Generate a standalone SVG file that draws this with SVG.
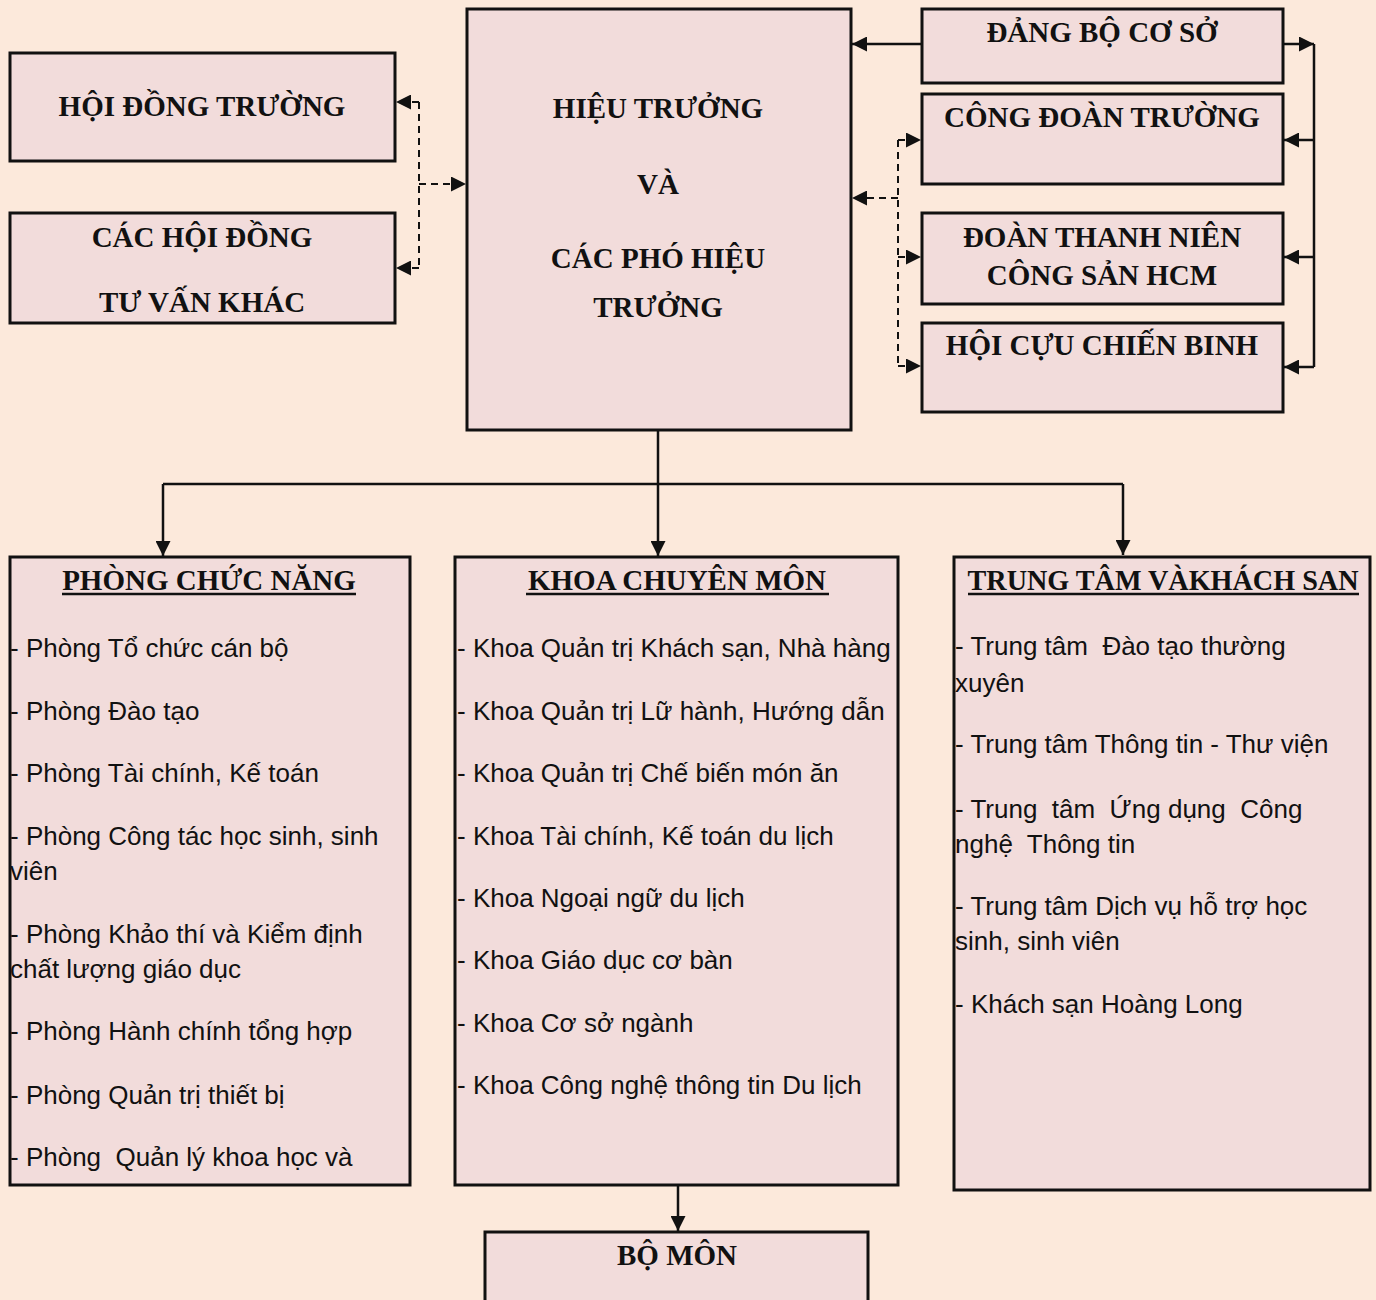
<svg xmlns="http://www.w3.org/2000/svg" width="1376" height="1300" viewBox="0 0 1376 1300">
<style>
.bg{fill:#FCE9DB}
.box{fill:#F2DCDB;stroke:#111;stroke-width:3}
.t{font-family:"Liberation Serif","Times New Roman",serif;font-weight:bold;font-size:29px;fill:#111;text-anchor:middle}
.b{font-family:"Liberation Sans",Arial,sans-serif;font-size:26px;fill:#111;white-space:pre}
.c{fill:none;stroke:#111;stroke-width:2.5}
.d{fill:none;stroke:#111;stroke-width:2;stroke-dasharray:7 5}
.u{stroke:#111;stroke-width:2.5}
</style>
<defs>
<marker id="ah" viewBox="0 0 10 10" refX="10" refY="5" markerWidth="17" markerHeight="15" markerUnits="userSpaceOnUse" orient="auto">
<path d="M0,0 L10,5 L0,10 Z" fill="#111"/>
</marker>
</defs>
<rect class="bg" x="0" y="0" width="1376" height="1300"/>

<g id="connectors">
<path class="d" d="M419,102 V268"/>
<path class="d" d="M419,102 H396" marker-end="url(#ah)"/>
<path class="d" d="M419,268 H396" marker-end="url(#ah)"/>
<path class="d" d="M419,184 H466" marker-end="url(#ah)"/>
<path class="c" d="M922,44 H852" marker-end="url(#ah)"/>
<path class="d" d="M898,140 V366"/>
<path class="d" d="M898,198 H852" marker-end="url(#ah)"/>
<path class="d" d="M898,140 H921" marker-end="url(#ah)"/>
<path class="d" d="M898,257 H921" marker-end="url(#ah)"/>
<path class="d" d="M898,366 H921" marker-end="url(#ah)"/>
<path class="c" d="M1283,44 H1314" marker-end="url(#ah)"/>
<path class="c" d="M1314,44 V367"/>
<path class="c" d="M1314,140 H1284" marker-end="url(#ah)"/>
<path class="c" d="M1314,257 H1284" marker-end="url(#ah)"/>
<path class="c" d="M1314,367 H1284" marker-end="url(#ah)"/>
<path class="c" d="M658,430 V556" marker-end="url(#ah)"/>
<path class="c" d="M163,484 H1123"/>
<path class="c" d="M163,484 V556" marker-end="url(#ah)"/>
<path class="c" d="M1123,484 V555" marker-end="url(#ah)"/>
<path class="c" d="M678,1185 V1231" marker-end="url(#ah)"/>
</g>

<g id="hoi-dong-truong">
<rect class="box" x="10" y="53" width="385" height="108"/>
<text class="t" x="202" y="116">HỘI ĐỒNG TRƯỜNG</text>
</g>
<g id="cac-hoi-dong">
<rect class="box" x="10" y="213" width="385" height="110"/>
<text class="t" x="202" y="247">CÁC HỘI ĐỒNG</text>
<text class="t" x="202" y="312">TƯ VẤN KHÁC</text>
</g>
<g id="hieu-truong">
<rect class="box" x="467" y="9" width="384" height="421"/>
<text class="t" x="658" y="118">HIỆU TRƯỞNG</text>
<text class="t" x="658" y="194">VÀ</text>
<text class="t" x="658" y="268">CÁC PHÓ HIỆU</text>
<text class="t" x="658" y="317">TRƯỞNG</text>
</g>
<g id="dang-bo">
<rect class="box" x="922" y="9" width="361" height="74"/>
<text class="t" x="1102" y="42">ĐẢNG BỘ CƠ SỞ</text>
</g>
<g id="cong-doan">
<rect class="box" x="922" y="94" width="361" height="90"/>
<text class="t" x="1102" y="127">CÔNG ĐOÀN TRƯỜNG</text>
</g>
<g id="doan-thanh-nien">
<rect class="box" x="922" y="213" width="361" height="91"/>
<text class="t" x="1102" y="247">ĐOÀN THANH NIÊN</text>
<text class="t" x="1102" y="285">CÔNG SẢN HCM</text>
</g>
<g id="cuu-chien-binh">
<rect class="box" x="922" y="323" width="361" height="89"/>
<text class="t" x="1102" y="355">HỘI CỰU CHIẾN BINH</text>
</g>

<g id="phong-chuc-nang">
<rect class="box" x="10" y="557" width="400" height="628"/>
<text class="t" x="209" y="590">PHÒNG CHỨC NĂNG</text>
<line class="u" x1="62" y1="594" x2="356" y2="594"/>
<text class="b" x="10" y="657">- Phòng Tổ chức cán bộ</text>
<text class="b" x="10" y="720">- Phòng Đào tạo</text>
<text class="b" x="10" y="782">- Phòng Tài chính, Kế toán</text>
<text class="b" x="10" y="845">- Phòng Công tác học sinh, sinh</text>
<text class="b" x="10" y="880">viên</text>
<text class="b" x="10" y="943">- Phòng Khảo thí và Kiểm định</text>
<text class="b" x="10" y="978">chất lượng giáo dục</text>
<text class="b" x="10" y="1040">- Phòng Hành chính tổng hợp</text>
<text class="b" x="10" y="1104">- Phòng Quản trị thiết bị</text>
<text class="b" x="10" y="1166">- Phòng  Quản lý khoa học và</text>
</g>

<g id="khoa-chuyen-mon">
<rect class="box" x="455" y="557" width="443" height="628"/>
<text class="t" x="677" y="590">KHOA CHUYÊN MÔN</text>
<line class="u" x1="526" y1="594" x2="829" y2="594"/>
<text class="b" x="457" y="657">- Khoa Quản trị Khách sạn, Nhà hàng</text>
<text class="b" x="457" y="720">- Khoa Quản trị Lữ hành, Hướng dẫn</text>
<text class="b" x="457" y="782">- Khoa Quản trị Chế biến món ăn</text>
<text class="b" x="457" y="845">- Khoa Tài chính, Kế toán du lịch</text>
<text class="b" x="457" y="907">- Khoa Ngoại ngữ du lịch</text>
<text class="b" x="457" y="969">- Khoa Giáo dục cơ bàn</text>
<text class="b" x="457" y="1032">- Khoa Cơ sở ngành</text>
<text class="b" x="457" y="1094">- Khoa Công nghệ thông tin Du lịch</text>
</g>

<g id="trung-tam">
<rect class="box" x="954" y="557" width="416" height="633"/>
<text class="t" x="1163" y="590" textLength="391" lengthAdjust="spacingAndGlyphs">TRUNG TÂM VÀKHÁCH SAN</text>
<line class="u" x1="968" y1="594" x2="1359" y2="594"/>
<text class="b" x="955" y="655">- Trung tâm  Đào tạo thường</text>
<text class="b" x="955" y="692">xuyên</text>
<text class="b" x="955" y="753">- Trung tâm Thông tin - Thư viện</text>
<text class="b" x="955" y="818">- Trung  tâm  Ứng dụng  Công</text>
<text class="b" x="955" y="853">nghệ  Thông tin</text>
<text class="b" x="955" y="915">- Trung tâm Dịch vụ hỗ trợ học</text>
<text class="b" x="955" y="950">sinh, sinh viên</text>
<text class="b" x="955" y="1013">- Khách sạn Hoàng Long</text>
</g>

<g id="bo-mon">
<rect class="box" x="485" y="1232" width="383" height="80"/>
<text class="t" x="677" y="1265">BỘ MÔN</text>
</g>
</svg>
